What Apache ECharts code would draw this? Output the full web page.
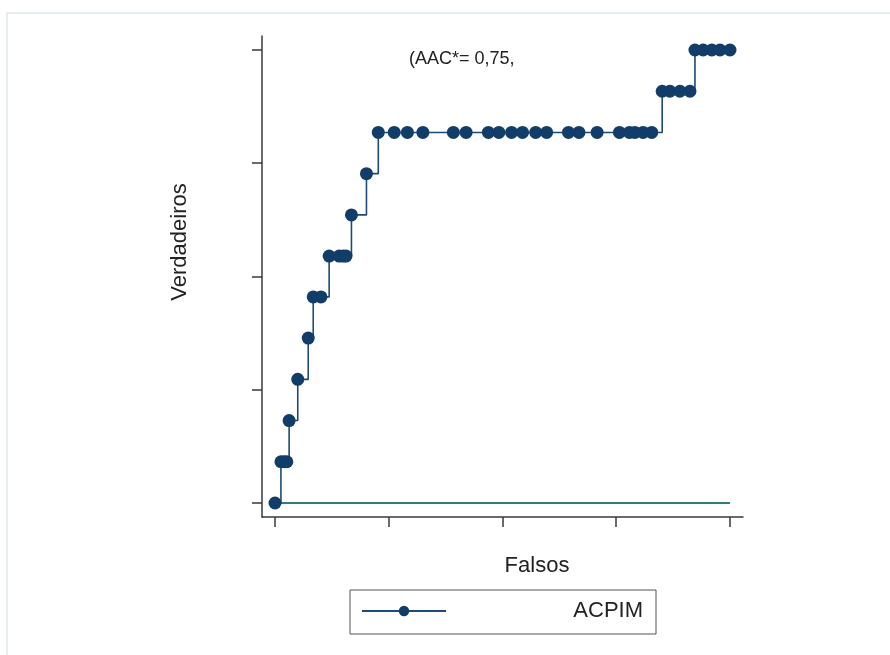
<!DOCTYPE html>
<html>
<head>
<meta charset="utf-8">
<script src="https://cdn.jsdelivr.net/npm/echarts@6/dist/echarts.min.js"></script>
<style>
html,body{margin:0;padding:0;background:#fff;}
#chart{width:890px;height:655px;}
</style>
</head>
<body>
<div id="chart"></div>
<script>
// False positive rate (Falsos)
var falsos = [0, 0.013, 0.02, 0.026, 0.031, 0.05, 0.073, 0.084, 0.101, 0.119, 0.141, 0.15, 0.156, 0.168, 0.201,
  0.227, 0.262, 0.291, 0.325, 0.392, 0.42, 0.469, 0.492, 0.52, 0.544, 0.573, 0.597, 0.645, 0.668, 0.708, 0.757, 0.779, 0.791, 0.809, 0.828,
  0.851, 0.868, 0.89, 0.912,
  0.923, 0.941, 0.96, 0.978, 1.0];
// True positive rate (Verdadeiros)
var verdadeiros = [0, 0.091, 0.091, 0.091, 0.182, 0.273, 0.364, 0.455, 0.455, 0.545, 0.545, 0.545, 0.545, 0.636, 0.727,
  0.818, 0.818, 0.818, 0.818, 0.818, 0.818, 0.818, 0.818, 0.818, 0.818, 0.818, 0.818, 0.818, 0.818, 0.818, 0.818, 0.818, 0.818, 0.818, 0.818,
  0.909, 0.909, 0.909, 0.909,
  1, 1, 1, 1, 1];
var refX = [0, 1];
var refY = [0, 0];
var tickValues = [0, 0.25, 0.5, 0.75, 1];
var seriesName = 'ACPIM';
var aacText = '(AAC*= 0,75,';

var roc = falsos.map(function (x, i) { return [x, verdadeiros[i]]; });
var ref = refX.map(function (x, i) { return [x, refY[i]]; });

var chart = echarts.init(document.getElementById('chart'), null, {renderer: 'canvas'});
var axisColor = '#3a3a3a';
var font = 'Liberation Sans, Arial, sans-serif';
chart.setOption({
  backgroundColor: '#ffffff',
  animation: false,
  grid: {left: 262, right: 147, top: 36, bottom: 138},
  xAxis: {
    type: 'value', min: -0.0286, max: 1.0286,
    splitLine: {show: false},
    axisLine: {show: true, onZero: false, lineStyle: {color: axisColor, width: 1.5}},
    axisTick: {show: true, customValues: tickValues, length: 10, lineStyle: {color: axisColor, width: 1.5}},
    axisLabel: {show: false}
  },
  yAxis: {
    type: 'value', min: -0.0309, max: 1.0309,
    splitLine: {show: false},
    axisLine: {show: true, onZero: false, lineStyle: {color: axisColor, width: 1.5}},
    axisTick: {show: true, customValues: tickValues, length: 10, lineStyle: {color: axisColor, width: 1.5}},
    axisLabel: {show: false}
  },
  legend: {
    data: [seriesName],
    left: 350, top: 590,
    padding: [10, 13, 12, 11],
    borderColor: '#555', borderWidth: 1,
    itemWidth: 84, itemHeight: 13, itemGap: 5,
    formatter: function (n) { return '{a|' + n + '}'; },
    textStyle: {
      fontFamily: font, fontSize: 22, color: '#222',
      rich: {a: {width: 192, align: 'right', fontFamily: font, fontSize: 22, color: '#222', lineHeight: 24}}
    }
  },
  graphic: [
    {type: 'rect', shape: {x: 7, y: 13, width: 900, height: 660}, style: {fill: null, stroke: '#e6efed', lineWidth: 2}, silent: true},
    {type: 'text', left: 409, top: 50, style: {text: aacText, font: '18px ' + font, fill: '#222'}},
    {type: 'text', x: 180, y: 242, rotation: Math.PI / 2,
      style: {text: 'Verdadeiros', font: '22px ' + font, fill: '#222', align: 'center', verticalAlign: 'middle'}},
    {type: 'text', x: 537, y: 566,
      style: {text: 'Falsos', font: '22px ' + font, fill: '#222', align: 'center', verticalAlign: 'middle'}}
  ],
  series: [
    {
      name: 'ref', type: 'line', data: ref, symbol: 'none',
      lineStyle: {color: '#2f7d78', width: 2},
      z: 1
    },
    {
      name: seriesName, type: 'line', data: roc, step: 'end',
      symbol: 'circle', symbolSize: 13, showSymbol: true,
      itemStyle: {color: '#113d68'},
      lineStyle: {color: '#1d4a78', width: 1.6},
      z: 2
    }
  ]
});
</script>
</body>
</html>
